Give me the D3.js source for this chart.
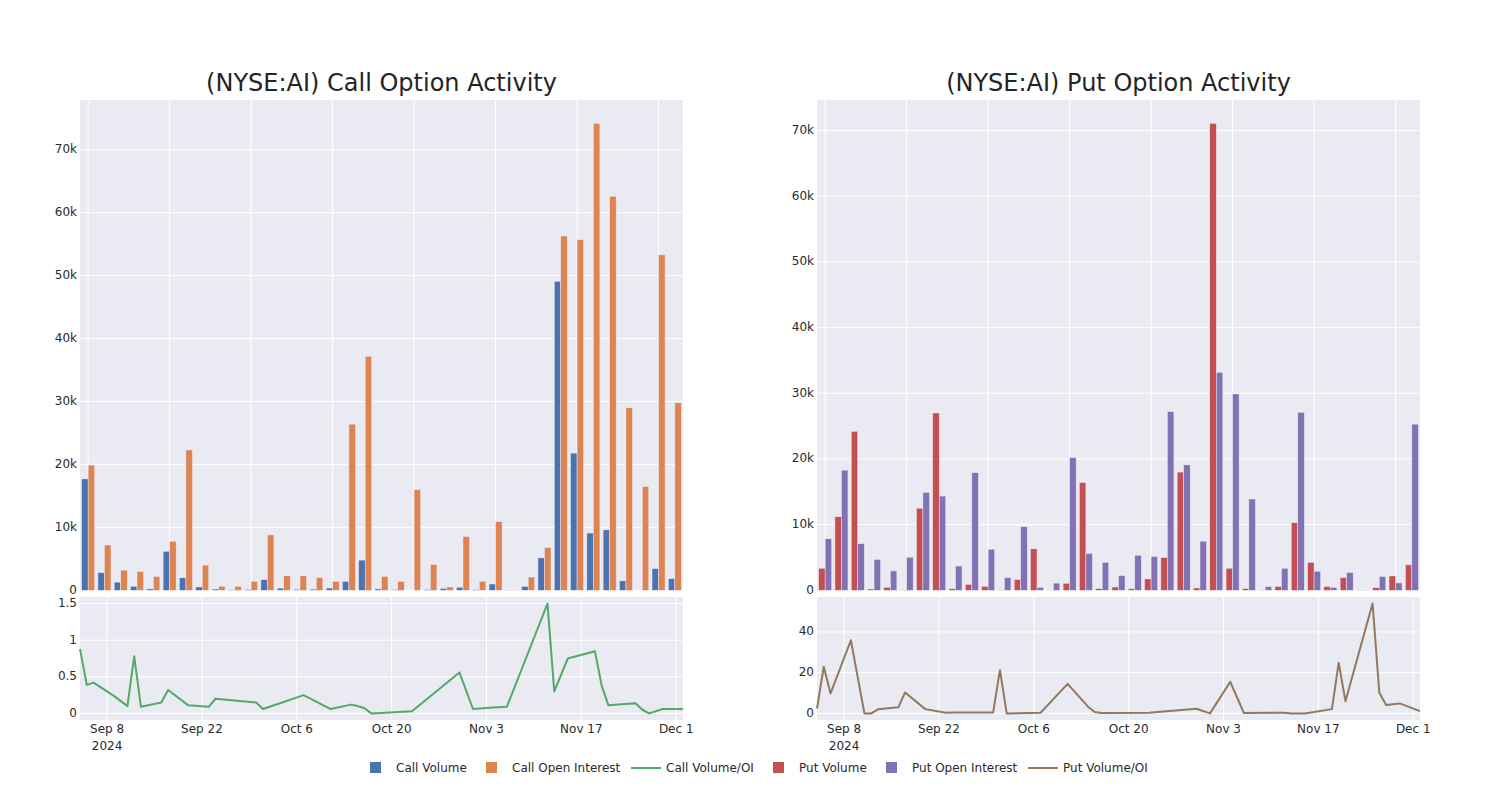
<!DOCTYPE html>
<html><head><meta charset="utf-8">
<script src="https://cdn.jsdelivr.net/npm/d3@7"></script>
<style>body{margin:0;background:#fff;} text{font-family:"DejaVu Sans",sans-serif;}</style>
</head><body><svg id="c" width="1500" height="800"></svg>
<script>
const dates = ["2024-09-04","2024-09-05","2024-09-06","2024-09-09","2024-09-11","2024-09-12","2024-09-13","2024-09-16","2024-09-17","2024-09-20","2024-09-23","2024-09-24","2024-09-30","2024-10-01","2024-10-02","2024-10-07","2024-10-11","2024-10-14","2024-10-15","2024-10-16","2024-10-17","2024-10-23","2024-10-30","2024-11-01","2024-11-04","2024-11-06","2024-11-12","2024-11-13","2024-11-15","2024-11-19","2024-11-20","2024-11-21","2024-11-25","2024-11-26","2024-11-27","2024-11-29","2024-12-02"];
const callVolume = [17700,2800,1300,640,220,6200,2000,530,200,70,130,1700,350,140,180,360,1430,4800,220,100,0,120,300,480,110,1000,45,630,5150,49100,21800,9100,9600,1500,0,3450,1860];
const callOI = [19900,7200,3200,3000,2200,7800,22300,4000,640,640,1430,8800,2300,2300,2000,1430,26400,37200,2200,1430,16000,4100,530,8550,1430,10900,30,2100,6800,56300,55700,74200,62600,29000,16500,53300,29800];
const callRatio = [0.88,0.39,0.42,0.24,0.10,0.78,0.09,0.15,0.32,0.11,0.09,0.20,0.15,0.06,0.09,0.25,0.06,0.12,0.10,0.07,0.00,0.03,0.56,0.06,0.08,0.09,1.50,0.30,0.75,0.85,0.38,0.11,0.14,0.05,0.00,0.06,0.06];
const putVolume = [3360,11200,24200,200,460,50,12500,27000,250,900,600,50,1630,6310,30,1070,16400,250,500,250,1730,4990,18000,360,71100,3360,250,30,600,10300,4270,600,1930,30,400,2190,3870];
const putOI = [7840,18300,7100,4700,2950,5040,14900,14350,3700,17900,6260,1930,9670,460,1100,20200,5600,4270,2240,5340,5140,27200,19100,7480,33200,29900,13900,560,3360,27100,2900,460,2700,30,2090,1120,25300];
const putRatio = [2.4,22.9,9.8,35.9,0,0,2.0,3.0,10.3,2.1,0.3,0.4,0.5,21.2,0,0.3,14.5,3.3,0.7,0.2,0.2,0.3,2.3,0,15.5,0.2,0.3,0,0,2.1,24.8,6.0,53.9,10.1,4.1,4.9,1.1];
const tickDates = ["2024-09-08","2024-09-22","2024-10-06","2024-10-20","2024-11-03","2024-11-17","2024-12-01"];
const barTicks = [0,10000,20000,30000,40000,50000,60000,70000];
const callRatioTicks = [0,0.5,1,1.5];
const putRatioTicks = [0,20,40];
const titles = ["(NYSE:AI) Call Option Activity","(NYSE:AI) Put Option Activity"];
const legendItems = [
  {label:"Call Volume", type:"bar", color:"#4c72b0"},
  {label:"Call Open Interest", type:"bar", color:"#dd8452"},
  {label:"Call Volume/OI", type:"line", color:"#55a868"},
  {label:"Put Volume", type:"bar", color:"#c44e52"},
  {label:"Put Open Interest", type:"bar", color:"#8172b3"},
  {label:"Put Volume/OI", type:"line", color:"#937860"}
];

const svg = d3.select("#c");
const parse = d3.utcParse("%Y-%m-%d");
const BG = "#eaeaf2", TXT = "#2a2a2a";
const topY0 = 100, topY1 = 590.3, botY0 = 597, botY1 = 720;

function panel(cfg){
  const {x0,x1,title,vol,oi,ratio,cV,cO,cR,rTicks} = cfg;
  const g = svg.append("g");
  g.append("text").attr("x",(x0+x1)/2).attr("y",84).attr("text-anchor","middle")
    .attr("dominant-baseline","middle").attr("font-size",24).attr("fill","#242424").text(title);
  g.append("rect").attr("x",x0).attr("y",topY0).attr("width",x1-x0).attr("height",topY1-topY0).attr("fill",BG);
  const xb = d3.scaleBand().domain(dates).range([x0,x1]).paddingInner(0.2).paddingOuter(0.1);
  const sub = d3.scaleBand().domain([0,1]).range([0,xb.bandwidth()]);
  const ymax = d3.max(vol.concat(oi))*1.05;
  const y = d3.scaleLinear().domain([0,ymax]).range([topY1,topY0]);
  dates.forEach((d,i)=>{ if(i%5===0){
    const cx = xb(d)+xb.bandwidth()/2;
    g.append("line").attr("x1",cx).attr("x2",cx).attr("y1",topY0).attr("y2",topY1).attr("stroke","#fff").attr("stroke-width",1);
  }});
  barTicks.forEach(t=>{
    g.append("line").attr("x1",x0).attr("x2",x1).attr("y1",y(t)).attr("y2",y(t)).attr("stroke","#fff").attr("stroke-width",1);
    g.append("text").attr("x",x0-3).attr("y",y(t)).attr("text-anchor","end").attr("dominant-baseline","middle")
      .attr("font-size",12).attr("fill",TXT).text(d3.format("~s")(t));
  });
  [[vol,cV,0],[oi,cO,1]].forEach(([arr,col,k])=>{
    g.selectAll(null).data(arr).enter().append("rect")
      .attr("x",(v,i)=>xb(dates[i])+sub(k)).attr("width",sub.bandwidth())
      .attr("y",v=>y(v)).attr("height",v=>Math.max(0,y(0)-y(v)))
      .attr("fill",col).attr("stroke",BG).attr("stroke-width",0.5);
  });
  g.append("rect").attr("x",x0).attr("y",botY0).attr("width",x1-x0).attr("height",botY1-botY0).attr("fill",BG);
  const xt = d3.scaleUtc().domain([parse(dates[0]),parse(dates[dates.length-1])]).range([x0,x1]);
  const rmin = Math.min(0,d3.min(ratio)), rmax = d3.max(ratio), pad=(rmax-rmin)*0.06;
  const yr = d3.scaleLinear().domain([rmin-pad,rmax+pad]).range([botY1,botY0]);
  tickDates.forEach((t,i)=>{
    const tx = xt(parse(t));
    g.append("line").attr("x1",tx).attr("x2",tx).attr("y1",botY0).attr("y2",botY1).attr("stroke","#fff").attr("stroke-width",1);
    const lab = g.append("text").attr("x",tx).attr("y",733).attr("text-anchor","middle").attr("font-size",12).attr("fill",TXT);
    lab.append("tspan").attr("x",tx).text(d3.utcFormat("%b %-d")(parse(t)));
    if(i===0) lab.append("tspan").attr("x",tx).attr("dy",16.5).text(d3.utcFormat("%Y")(parse(t)));
  });
  rTicks.forEach(t=>{
    g.append("line").attr("x1",x0).attr("x2",x1).attr("y1",yr(t)).attr("y2",yr(t)).attr("stroke","#fff").attr("stroke-width",1);
    g.append("text").attr("x",x0-3).attr("y",yr(t)).attr("text-anchor","end").attr("dominant-baseline","middle")
      .attr("font-size",12).attr("fill",TXT).text(t);
  });
  const line = d3.line().x((v,i)=>xt(parse(dates[i]))).y(v=>yr(v));
  g.append("path").datum(ratio).attr("d",line).attr("fill","none").attr("stroke",cR).attr("stroke-width",2).attr("stroke-linejoin","round");
}

panel({x0:80,x1:683,title:titles[0],vol:callVolume,oi:callOI,ratio:callRatio,cV:"#4c72b0",cO:"#dd8452",cR:"#55a868",rTicks:callRatioTicks});
panel({x0:817,x1:1420,title:titles[1],vol:putVolume,oi:putOI,ratio:putRatio,cV:"#c44e52",cO:"#8172b3",cR:"#937860",rTicks:putRatioTicks});

const lg = svg.append("g");
const legX = [370,486,631,773,886,1028];
legendItems.forEach((it,i)=>{
  const x = legX[i];
  if(it.type==="bar"){
    lg.append("rect").attr("x",x).attr("y",762).attr("width",11).attr("height",11).attr("fill",it.color);
    lg.append("text").attr("x",x+26).attr("y",768).attr("dominant-baseline","middle").attr("font-size",12).attr("fill",TXT).text(it.label);
  } else {
    lg.append("line").attr("x1",x).attr("x2",x+30).attr("y1",768).attr("y2",768).attr("stroke",it.color).attr("stroke-width",2);
    lg.append("text").attr("x",x+35).attr("y",768).attr("dominant-baseline","middle").attr("font-size",12).attr("fill",TXT).text(it.label);
  }
});
</script></body></html>
